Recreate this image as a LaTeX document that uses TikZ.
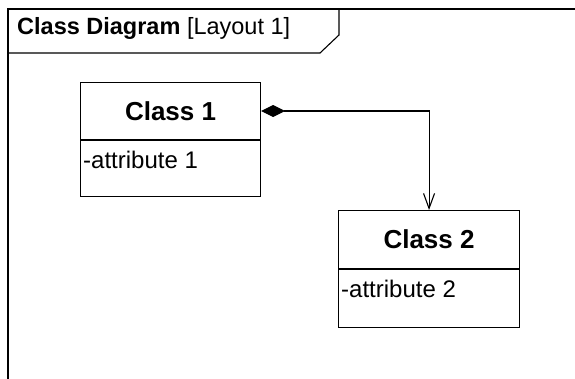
\documentclass[tikz,border=0pt]{standalone}
\usepackage{fontspec}
\setmainfont{Liberation Sans}
\usetikzlibrary{arrows.meta}
\begin{document}
\begin{tikzpicture}[x=1pt,y=-1pt,
  framestyle/.style={line width=1.8pt},
  tabstyle/.style={line width=1.1pt},
  boxpart/.style={draw, line width=1.1pt, inner sep=0pt, anchor=north west},
  classname/.style={font=\fontsize{26}{30}\selectfont\bfseries},
  attr/.style={font=\fontsize{24}{28}\selectfont, inner sep=0pt, anchor=west},
  conn/.style={line width=1.1pt}
]
\useasboundingbox (0,0) rectangle (575,379);
\clip (0,0) rectangle (575,379);
\fill[white] (0,0) rectangle (575,379);
% frame
\draw[framestyle] (8,400) -- (8,9) -- (600,9);
\draw[tabstyle] (8,53) -- (320,53) -- (339,35) -- (339,9);
\node[anchor=west, inner sep=0pt, font=\fontsize{23.5}{28}\selectfont] (title) at (17,28)
  {\textbf{Class Diagram} [Layout 1]};
% Class 1
\node[boxpart, minimum width=180pt, minimum height=57pt] (c1t) at (80,82) {};
\node[classname] (c1n) at (c1t.center) {Class 1};
\node[boxpart, minimum width=180pt, minimum height=56pt] (c1a) at (c1t.south west) {};
\node[attr] (c1x) at (83,160) {-attribute 1};
% Class 2
\node[boxpart, minimum width=181pt, minimum height=58pt] (c2t) at (338,210) {};
\node[classname] (c2n) at (c2t.center) {Class 2};
\node[boxpart, minimum width=181pt, minimum height=58pt] (c2a) at (c2t.south west) {};
\node[attr] (c2x) at (341,289) {-attribute 2};
% connector
\coordinate (bend) at (c2t.north |- c1t.east);
\draw[conn, {Diamond[length=24pt, width=12pt, fill=black]}-{Straight Barb[length=15pt, width=11pt, line width=1.1pt]}]
  (c1t.east) -- (bend) -- (c2t.north);
\end{tikzpicture}
\end{document}
